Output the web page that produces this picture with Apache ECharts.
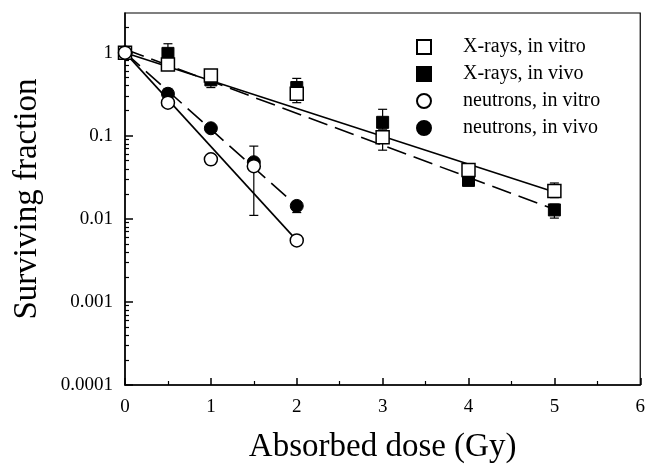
<!DOCTYPE html>
<html>
<head>
<meta charset="utf-8">
<script src="https://cdn.jsdelivr.net/npm/echarts@6/dist/echarts.min.js"></script>
<style>
html, body { margin: 0; padding: 0; background: #fff; }
#chart { width: 648px; height: 469px; }
</style>
</head>
<body>
<div id="chart"></div>
<script>
// 剂量 (Gy) 与存活分数
var xrayDose = [0, 0.5, 1, 2, 3, 4, 5];
var xrayVitro = [1, 0.72, 0.53, 0.32, 0.096, 0.0386, 0.0216];
var xrayVivo = [1, 0.98, 0.47, 0.38, 0.145, 0.029, 0.0128];
var neutronDose = [0, 0.5, 1, 1.5, 2];
var neutronVitro = [1, 0.25, 0.052, 0.043, 0.0055];
var neutronVivo = [1, 0.32, 0.123, 0.048, 0.0143];

// 误差棒: [剂量, 下限, 上限]
var xrayVitroErr = [[0.5, 0.62, 0.8], [1, 0.46, 0.6], [2, 0.25, 0.4], [3, 0.067, 0.11], [5, 0.018, 0.027]];
var xrayVivoErr = [[0.5, 0.82, 1.28], [1, 0.38, 0.55], [2, 0.3, 0.49], [3, 0.12, 0.208], [5, 0.0102, 0.015]];
var neutronVitroErr = [[1, 0.046, 0.058], [1.5, 0.011, 0.075]];
var neutronVivoErr = [[0.5, 0.28, 0.37], [2, 0.0119, 0.016]];

// 拟合直线 (端点)
var fitXrayVitro = [[0, 1], [5, 0.021]];
var fitXrayVivo = [[0, 1.1], [5, 0.013]];
var fitNeutronVitro = [[0, 1], [2, 0.0055]];
var fitNeutronVivo = [[0, 1], [2, 0.0143]];

var xTicks = [0, 1, 2, 3, 4, 5, 6];
var yMin = 0.0001, yMax = 3;

var FONT = '"Liberation Serif", "DejaVu Serif", serif';

function pairs(xs, ys) {
    return xs.map(function (x, i) { return [x, ys[i]]; });
}

// y 轴次刻度 (2..9 × 10^n)，放在一个对数值的辅助轴上
var minorVals = [];
for (var n = -4; n <= 0; n++) {
    for (var k = 2; k <= 9; k++) {
        var v = Math.log10(k) + n;
        if (v < Math.log10(yMax)) minorVals.push(v);
    }
}

function errorItem(params, api) {
    var x = api.value(0);
    var lo = api.coord([x, api.value(1)]);
    var hi = api.coord([x, api.value(2)]);
    var w = 4.5;
    var st = { stroke: '#000', lineWidth: 1.2 };
    return {
        type: 'group',
        children: [
            { type: 'line', shape: { x1: lo[0], y1: lo[1], x2: hi[0], y2: hi[1] }, style: st },
            { type: 'line', shape: { x1: lo[0] - w, y1: lo[1], x2: lo[0] + w, y2: lo[1] }, style: st },
            { type: 'line', shape: { x1: hi[0] - w, y1: hi[1], x2: hi[0] + w, y2: hi[1] }, style: st }
        ]
    };
}

function errSeries(data) {
    return {
        type: 'custom', renderItem: errorItem, data: data, z: 2, silent: true,
        encode: { x: 0, y: [1, 2] }
    };
}

function fitSeries(data, dashed) {
    return {
        type: 'line', data: data, symbol: 'none', silent: true, z: 1,
        lineStyle: { color: '#000', width: 1.6, type: dashed ? [20, 8] : 'solid' }
    };
}

var openStyle = { color: '#fff', borderColor: '#000', borderWidth: 1.5, opacity: 1 };
var fillStyle = { color: '#000', borderColor: '#000', borderWidth: 1, opacity: 1 };

var myChart = echarts.init(document.getElementById('chart'));

var option = {
    animation: false,
    grid: {
        left: 125, right: 7, top: 13, bottom: 83,
        show: true, borderColor: '#000', borderWidth: 1.2, backgroundColor: 'transparent'
    },
    legend: {
        orient: 'vertical', left: 411, top: 31,
        itemWidth: 14, itemHeight: 14, itemGap: 5,
        textStyle: { fontFamily: FONT, fontSize: 20, color: '#000', lineHeight: 22, padding: [0, 0, 0, 27] },
        data: [
            { name: 'X-rays, in vitro', icon: 'rect' },
            { name: 'X-rays, in vivo', icon: 'rect' },
            { name: 'neutrons, in vitro', icon: 'circle' },
            { name: 'neutrons, in vivo', icon: 'circle' }
        ]
    },
    xAxis: {
        type: 'value', min: 0, max: 6, interval: 1,
        name: 'Absorbed dose (Gy)', nameLocation: 'middle', nameGap: 46,
        nameTextStyle: { fontFamily: FONT, fontSize: 33, color: '#000' },
        axisLine: { onZero: false, lineStyle: { color: '#000', width: 1.5 } },
        axisTick: { inside: true, length: 7, lineStyle: { color: '#000', width: 1.5 } },
        minorTick: { show: true, splitNumber: 2, length: 4, lineStyle: { color: '#000', width: 1.2 } },
        splitLine: { show: false },
        axisLabel: {
            fontFamily: FONT, fontSize: 19, color: '#000', margin: 13,
            customValues: xTicks
        }
    },
    yAxis: [{
        type: 'log', logBase: 10, min: yMin, max: yMax,
        name: 'Surviving fraction', nameLocation: 'middle', nameGap: 81, nameRotate: 90,
        nameTextStyle: { fontFamily: FONT, fontSize: 33, color: '#000' },
        axisLine: { show: true, onZero: false, lineStyle: { color: '#000', width: 1.5 } },
        axisTick: { inside: true, length: 8, lineStyle: { color: '#000', width: 1.5 } },
        splitLine: { show: false },
        axisLabel: {
            fontFamily: FONT, fontSize: 19, color: '#000', margin: 12, showMaxLabel: false,
            formatter: function (v) { return String(Number(v.toPrecision(3))); }
        }
    }, {
        type: 'value', min: -4, max: Math.log10(yMax), position: 'left',
        axisLine: { show: false, onZero: false },
        axisLabel: { show: false },
        splitLine: { show: false },
        axisTick: { show: true, inside: true, length: 4, customValues: minorVals, lineStyle: { color: '#000', width: 1.2 } }
    }],
    series: [
        fitSeries(fitXrayVitro, false),
        fitSeries(fitXrayVivo, true),
        fitSeries(fitNeutronVitro, false),
        fitSeries(fitNeutronVivo, true),
        errSeries(xrayVitroErr),
        errSeries(xrayVivoErr),
        errSeries(neutronVitroErr),
        errSeries(neutronVivoErr),
        { name: 'X-rays, in vivo', type: 'scatter', symbol: 'rect', symbolSize: 12, z: 3,
          itemStyle: fillStyle, data: pairs(xrayDose, xrayVivo) },
        { name: 'X-rays, in vitro', type: 'scatter', symbol: 'rect', symbolSize: 13, z: 4,
          itemStyle: openStyle, data: pairs(xrayDose, xrayVitro) },
        { name: 'neutrons, in vivo', type: 'scatter', symbol: 'circle', symbolSize: 13, z: 3,
          itemStyle: fillStyle, data: pairs(neutronDose, neutronVivo) },
        { name: 'neutrons, in vitro', type: 'scatter', symbol: 'circle', symbolSize: 13, z: 4,
          itemStyle: openStyle, data: pairs(neutronDose, neutronVitro) }
    ]
};

myChart.setOption(option);
</script>
</body>
</html>
